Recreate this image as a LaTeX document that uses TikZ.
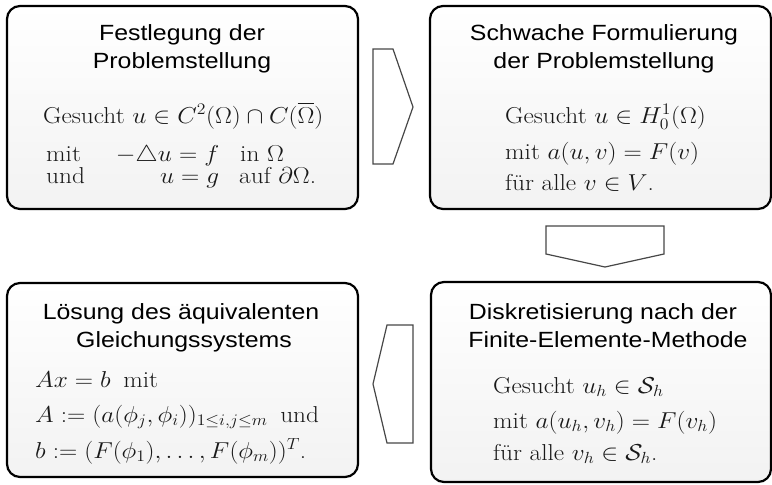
\RequirePackage{fix-cm}
\documentclass[tikz,border=0pt]{standalone}
\usepackage{amsmath}
\usepackage{fontspec}
\setmainfont{Latin Modern Roman}
\newfontfamily\titlefont[FakeStretch=1.13]{Liberation Sans}
\newcommand\xst[1]{\scalebox{1.1}[1]{#1}}
\begin{document}
\begin{tikzpicture}[x=1pt,y=-1pt,
  box/.style={draw=black, line width=2.2pt, rounded corners=13pt, top color=white, bottom color=black!5, inner sep=0pt},
  title/.style={anchor=base, inner sep=0pt, text=black, font=\titlefont\fontsize{22}{26}\selectfont},
  txt/.style={anchor=base west, inner sep=0pt, text=black!90, font=\fontsize{23}{20}\selectfont},
  blockarrow/.style={draw=black!72, line width=1.2pt, fill=white, line join=miter}]
\useasboundingbox (0,0) rectangle (772,485);
\clip (0,0) rectangle (772,485);
\fill[white] (0,0) rectangle (772,485);

% boxes
\node[box, minimum width=351pt, minimum height=203pt] (b1) at (182.5,107.5) {};
\node[box, minimum width=341pt, minimum height=203pt] (b2) at (600.5,107.5) {};
\node[box, minimum width=351pt, minimum height=194pt] (b3) at (182.5,380) {};
\node[box, minimum width=340pt, minimum height=200pt] (b4) at (601,382) {};

% block arrows
\draw[blockarrow] (373,49) -- (393,49) -- (413,107) -- (393,164) -- (373,164) -- cycle;
\draw[blockarrow] (546,226) -- (664,226) -- (664,254) -- (605,267) -- (546,254) -- cycle;
\draw[blockarrow] (413,325) -- (413,443) -- (387,443) -- (373,384) -- (387,325) -- cycle;

% box 1
\node[title] (t1a) at (182,40) {Festlegung der};
\node[title] (t1b) at (182,68) {Problemstellung};
\node[txt] (l1a) at (43,123) {\xst{Gesucht $u\in C^2(\Omega)\cap C(\overline{\Omega})$}};
\node[txt] (l1b) at (46,161) {\xst{\begin{tabular}[t]{@{}l@{}}
  \makebox[157.3pt][l]{mit\hfill$-\triangle u = f$}\hspace{19.1pt}in $\Omega$\\
  \makebox[157.3pt][l]{und\hfill$u = g$}\hspace{18.2pt}auf $\partial\Omega$.
\end{tabular}}};

% box 2
\node[title] (t2a) at (604,40) {Schwache Formulierung};
\node[title] (t2b) at (604,68) {der Problemstellung};
\node[txt] (l2a) at (505,123) {\xst{Gesucht $u\in H_0^1(\Omega)$}};
\node[txt] (l2b) at (505,159) {\xst{mit $a(u,v)=F(v)$}};
\node[txt] (l2c) at (505,190) {\xst{für alle $v\in V$.}};

% box 3
\node[title] (t3a) at (181,319) {Lösung des äquivalenten};
\node[title] (t3b) at (184,347) {Gleichungssystems};
\node[txt] (l3a) at (35,387) {\xst{$Ax=b$\enskip mit}};
\node[txt] (l3b) at (35,422) {\xst{$A:=(a(\phi_j,\phi_i))_{1\le i,j\le m}$\enskip und}};
\node[txt] (l3c) at (35,458) {\xst{$b:=(F(\phi_1),\ldots,F(\phi_m))^T$.}};

% box 4
\node[title] (t4a) at (603,319) {Diskretisierung nach der};
\node[title] (t4b) at (608,347) {Finite-Elemente-Methode};
\node[txt] (l4a) at (493,393) {\xst{Gesucht $u_h\in\mathcal{S}_h$}};
\node[txt] (l4b) at (493,428) {\xst{mit $a(u_h,v_h)=F(v_h)$}};
\node[txt] (l4c) at (493,460) {\xst{für alle $v_h\in\mathcal{S}_h$.}};
\end{tikzpicture}
\end{document}
